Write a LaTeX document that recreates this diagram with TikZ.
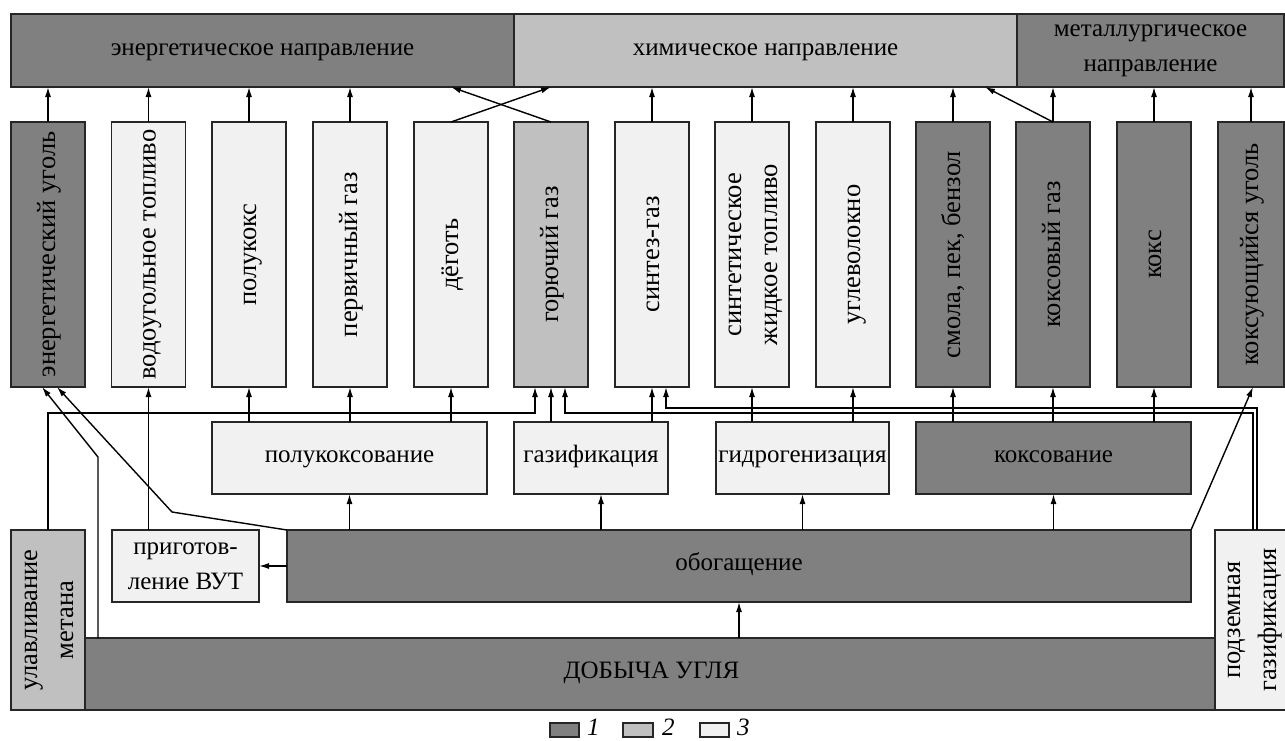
\documentclass[tikz,border=0pt]{standalone}
\usepackage{fontspec}
\setmainfont{Liberation Serif}
\usetikzlibrary{arrows.meta}
\definecolor{dkgray}{RGB}{128,128,128}
\definecolor{mdgray}{RGB}{192,192,192}
\definecolor{ltgray}{RGB}{241,241,241}
\newcommand{\vtxt}[1]{\rotatebox{90}{\fontsize{26.5}{36}\selectfont\begin{tabular}{@{}c@{}}#1\end{tabular}}}
\tikzset{
  blk/.style={draw=black!85, line width=1.4pt, outer sep=0pt, align=center, font=\fontsize{25}{35}\selectfont},
  dk/.style={blk, fill=dkgray},
  md/.style={blk, fill=mdgray},
  lt/.style={blk, fill=ltgray},
  one/.style={text height=16pt, text depth=7pt},
  prod/.style={minimum width=74pt, minimum height=265pt},
  proc/.style={minimum height=72pt},
  arr/.style={line width=1.4pt, -{Latex[length=10pt,width=6pt]}},
  legtxt/.style={anchor=west, font=\fontsize{25}{30}\selectfont\itshape}
}
\begin{document}
\begin{tikzpicture}[x=1pt,y=-1pt]
\tikzstyle{every node}+=[inner sep=0pt]
\useasboundingbox (0,0) rectangle (1285,740);
\node[dk, one, minimum width=503pt, minimum height=73pt] (energy) at (262.5,50.5) {энергетическое направление};
\node[md, one, minimum width=503pt, minimum height=73pt] (chem) at (765.5,50.5) {химическое направление};
\node[dk, minimum width=267pt, minimum height=73pt] (metal) at (1150.5,50.5) {металлургическое\\направление};
\node[dk, prod] (c0) at (48,254.5) {\vtxt{энергетический уголь}};
\node[lt, prod] (c1) at (148.5,254.5) {\vtxt{водоугольное топливо}};
\node[lt, prod] (c2) at (249,254.5) {\vtxt{полукокс}};
\node[lt, prod] (c3) at (350,254.5) {\vtxt{первичный газ}};
\node[lt, prod] (c4) at (451,254.5) {\vtxt{дёготь}};
\node[md, prod] (c5) at (551,254.5) {\vtxt{горючий газ}};
\node[lt, prod] (c6) at (652,254.5) {\vtxt{синтез-газ}};
\node[lt, prod] (c7) at (752,254.5) {\vtxt{синтетическое\\жидкое топливо}};
\node[lt, prod] (c8) at (853,254.5) {\vtxt{углеволокно}};
\node[dk, prod] (c9) at (953,254.5) {\vtxt{смола, пек, бензол}};
\node[dk, prod] (c10) at (1053,254.5) {\vtxt{коксовый газ}};
\node[dk, prod] (c11) at (1154,254.5) {\vtxt{кокс}};
\node[dk, prod, minimum width=66pt] (c12) at (1251,254.5) {\vtxt{коксующийся уголь}};
\node[lt, one, proc, minimum width=275pt] (pk) at (349.5,458) {полукоксование};
\node[lt, one, proc, minimum width=154pt] (gz) at (591,458) {газификация};
\node[lt, one, proc, minimum width=173pt] (hg) at (802.5,458) {гидрогенизация};
\node[dk, one, proc, minimum width=275pt] (ks) at (1053.5,458) {коксование};
\node[lt, proc, minimum width=147pt] (vut) at (185.5,566) {приготов-\\ление ВУТ};
\node[dk, one, proc, minimum width=904pt] (ob) at (739,566) {обогащение};
\node[md, minimum width=74pt, minimum height=180pt] (ulm) at (48,620) {\vtxt{улавливание\\метана}};
\node[dk, one, proc, minimum width=1133pt] (db) at (651.5,674) {ДОБЫЧА УГЛЯ};
\node[lt, minimum width=66pt, minimum height=180pt] (pg) at (1251,620) {\vtxt{подземная\\газификация}};
\node[dk, line width=1.2pt, minimum width=29pt, minimum height=14pt] (l1) at (564.5,730) {};
\node[legtxt] (t1) at (587,727) {1};
\node[md, line width=1.2pt, minimum width=30pt, minimum height=14pt] (l2) at (638,730) {};
\node[legtxt] (t2) at (662,727) {2};
\node[lt, line width=1.2pt, minimum width=29pt, minimum height=14pt] (l3) at (714.5,730) {};
\node[legtxt] (t3) at (737,727) {3};
\coordinate (k2) at (985,87);
\coordinate (o1) at (601,530);
\coordinate (k1) at (98,457);
\coordinate (k3) at (172,512);
\coordinate (g1) at (535,413);
\coordinate (g2) at (565,413);
\coordinate (g3) at (666,408);
\draw[arr] (c0.north) -- (c0.north |- energy.south);
\draw[arr] (c1.north) -- (c1.north |- energy.south);
\draw[arr] (c2.north) -- (c2.north |- energy.south);
\draw[arr] (c3.north) -- (c3.north |- energy.south);
\draw[arr] (c4.north) -- (c5.north |- chem.south);
\draw[arr] (c5.north) -- (c4.north |- energy.south);
\draw[arr] (c6.north) -- (c6.north |- chem.south);
\draw[arr] (c7.north) -- (c7.north |- chem.south);
\draw[arr] (c8.north) -- (c8.north |- chem.south);
\draw[arr] (c9.north) -- (c9.north |- chem.south);
\draw[arr] (c10.north) -- (k2);
\draw[arr] (c10.north) -- (c10.north |- metal.south);
\draw[arr] (c11.north) -- (c11.north |- metal.south);
\draw[arr] (c12.north) -- (c12.north |- metal.south);
\draw[arr] (c2.south |- pk.north) -- (c2.south);
\draw[arr] (c3.south |- pk.north) -- (c3.south);
\draw[arr] (c4.south |- pk.north) -- (c4.south);
\draw[arr] (c5.south |- gz.north) -- (c5.south);
\draw[arr] (c6.south |- gz.north) -- (c6.south);
\draw[arr] (c7.south |- hg.north) -- (c7.south);
\draw[arr] (c8.south |- hg.north) -- (c8.south);
\draw[arr] (c9.south |- ks.north) -- (c9.south);
\draw[arr] (c10.south |- ks.north) -- (c10.south);
\draw[arr] (c11.south |- ks.north) -- (c11.south);
\draw[arr] (pk.south |- ob.north) -- (pk.south);
\draw[arr] (o1) -- (o1 |- gz.south);
\draw[arr] (hg.south |- ob.north) -- (hg.south);
\draw[arr] (ks.south |- ob.north) -- (ks.south);
\draw[arr] (ob.south |- db.north) -- (ob.south);
\draw[arr] (ob.west) -- (vut.east);
\draw[arr] (vut.north -| c1.south) -- (c1.south);
\draw[arr] (ob.north east) -- ([xshift=2pt]c12.south);
\draw[arr] (k1 |- db.north) -- (k1) -- ([xshift=-6pt]c0.south);
\draw[arr] (ob.north west) -- (k3) -- ([xshift=9pt]c0.south);
\draw[arr] (ulm.north) |- (g1) -- (g1 |- c5.south);
\draw[arr] ([xshift=2pt]pg.north) |- (g2) -- (g2 |- c5.south);
\draw[arr] ([xshift=6pt]pg.north) |- (g3) -- (g3 |- c6.south);
\end{tikzpicture}
\end{document}
